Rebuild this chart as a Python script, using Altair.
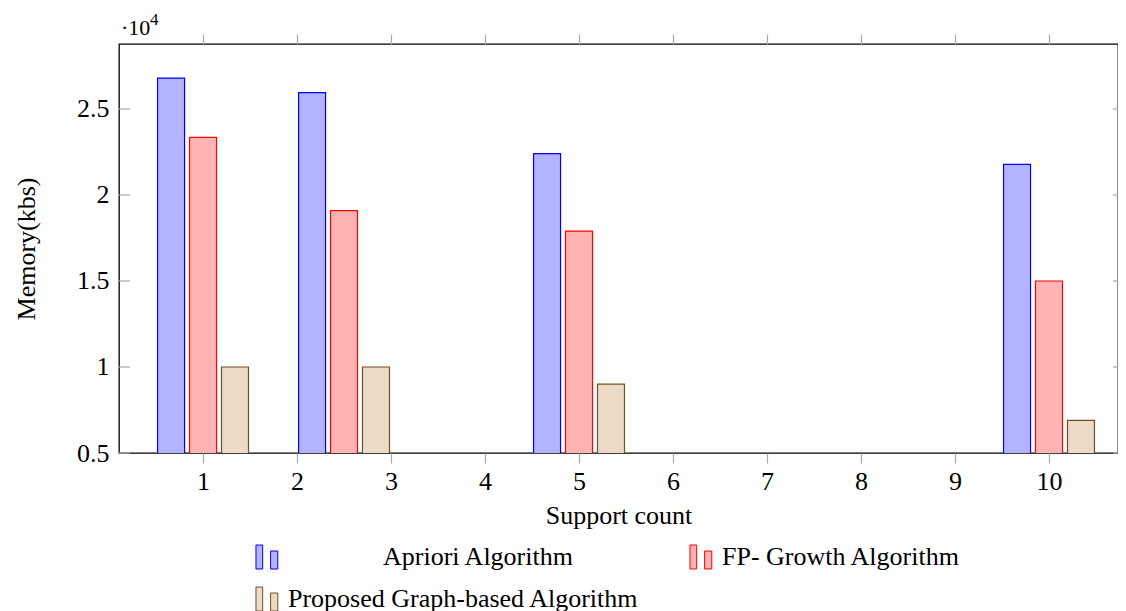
import altair as alt
import pandas as pd

# ---- data (values in kbs) ----
support = [1, 2.5, 5, 10]
apriori = [26800, 25950, 22400, 21780]
fp_growth = [23350, 19090, 17900, 15000]
proposed = [10000, 10000, 9000, 6900]

algorithms = ["Apriori Algorithm", "FP- Growth Algorithm", "Proposed Graph-based Algorithm"]
group_offsets = [-0.34, 0.0, 0.34]
fill_colors = ["#b3b3ff", "#ffb3b3", "#ecd9c6"]
stroke_colors = ["#0000ff", "#ff0000", "#734d26"]

x_ticks = list(range(1, 11))
y_ticks = [5000, 10000, 15000, 20000, 25000]
scale_base = ["·10"]
scale_exp = ["4"]

rows = []
for alg, off, vals in zip(algorithms, group_offsets, [apriori, fp_growth, proposed]):
    for s, v in zip(support, vals):
        rows.append({"support": s, "algorithm": alg, "offset": off, "value": v})
df = pd.DataFrame(rows)
ticks_df = pd.DataFrame({"value": y_ticks})

FONT = "Liberation Serif"
W, H = 999, 409
xscale = alt.Scale(domain=[0.106, 10.734], nice=False, zero=False, padding=0)
yscale = alt.Scale(domain=[5000, 28779], nice=False, zero=False, padding=0)

# two-bar legend glyph (pgfplots ybar legend)
glyph = "M-0.92,-1 H-0.36 V1 H-0.92 Z M0.3,-0.5 H0.9 V1 H0.3 Z"
pad = "\u2800" * 5
legend = alt.Legend(
    title=None, orient="none", legendX=135, legendY=500, columns=2, direction="horizontal",
    symbolType=glyph, symbolSize=576, symbolStrokeWidth=1, symbolOpacity=1,
    labelFont=FONT, labelFontSize=26, labelColor="black", labelOffset=8,
    labelLimit=800, rowPadding=14, columnPadding=48, padding=0,
    labelExpr="indexof(datum.label, 'Apriori') == 0 ? '" + pad + "' + datum.label : datum.label",
)

base = alt.Chart(df).transform_calculate(xpos="datum.support + datum.offset")

bars = base.mark_bar(size=27, clip=True, strokeWidth=1.2).encode(
    x=alt.X("xpos:Q", scale=xscale,
            axis=alt.Axis(values=x_ticks, title="Support count", orient="bottom",
                          tickSize=10, labelPadding=5, titleY=62, titleBaseline="middle")),
    y=alt.Y("value:Q", scale=yscale,
            axis=alt.Axis(values=y_ticks, labelExpr="format(datum.value / 10000, '')",
                          title="Memory(kbs)", ticks=False, labelPadding=10,
                          titleX=-93, titleY=H / 2, titleBaseline="middle")),
    fill=alt.Fill("algorithm:N", scale=alt.Scale(domain=algorithms, range=fill_colors), legend=legend),
    stroke=alt.Stroke("algorithm:N", scale=alt.Scale(domain=algorithms, range=stroke_colors), legend=legend),
)

# top x ticks
top_axis = base.mark_bar(opacity=0, size=1).encode(
    x=alt.X("xpos:Q", scale=xscale,
            axis=alt.Axis(values=x_ticks, orient="top", labels=False, title=None, tickSize=10)),
    y=alt.Y("value:Q", scale=yscale, axis=None),
)

# inner y ticks on left and right edges
left_ticks = alt.Chart(ticks_df).mark_rule(color="#a8a8a8", strokeWidth=1.2).encode(
    y=alt.Y("value:Q", scale=yscale, axis=None),
    x=alt.value(0), x2=alt.value(11),
)
right_ticks = alt.Chart(ticks_df).mark_rule(color="#a8a8a8", strokeWidth=1.2).encode(
    y=alt.Y("value:Q", scale=yscale, axis=None),
    x=alt.value(W - 5), x2=alt.value(W),
)

# "·10^4" scale label
exp_base = alt.Chart(pd.DataFrame({"t": scale_base})).mark_text(
    font=FONT, fontSize=22, align="left", baseline="alphabetic", color="black"
).encode(text="t:N", x=alt.value(2), y=alt.value(-9))
exp_sup = alt.Chart(pd.DataFrame({"t": scale_exp})).mark_text(
    font=FONT, fontSize=17, align="left", baseline="alphabetic", color="black"
).encode(text="t:N", x=alt.value(31), y=alt.value(-19))

chart = alt.layer(bars, top_axis, left_ticks, right_ticks, exp_base, exp_sup).resolve_axis(
    x="independent", y="independent"
).properties(
    width=W, height=H,
    autosize=alt.AutoSizeParams(type="none"),
    padding={"left": 111, "top": 36, "right": 0, "bottom": 160},
).configure_view(
    stroke="black", strokeWidth=1.3
).configure_axis(
    labelFont=FONT, labelFontSize=26, labelColor="black",
    titleFont=FONT, titleFontSize=26, titleFontWeight="normal", titleColor="black",
    tickColor="#a8a8a8", tickWidth=1.2, grid=False, domain=False,
)

chart.save("out.html", embed_options={"renderer": "svg", "actions": False})
